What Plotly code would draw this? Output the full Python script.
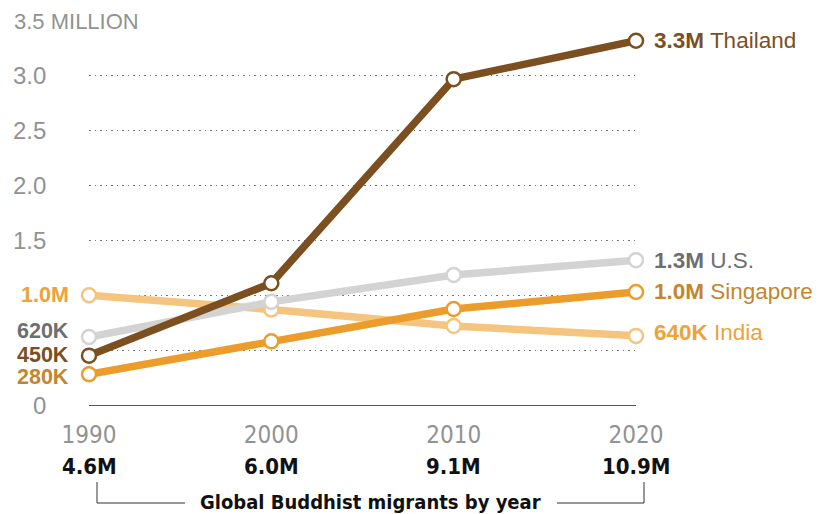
import plotly.graph_objects as go

# ---------------------------------------------------------
# data
# ---------------------------------------------------------
years = [1990, 2000, 2010, 2020]
thailand = [0.45, 1.11, 2.97, 3.32]
us = [0.62, 0.94, 1.185, 1.32]
singapore = [0.28, 0.58, 0.875, 1.03]
india = [1.00, 0.87, 0.72, 0.63]

global_totals = ["4.6M", "6.0M", "9.1M", "10.9M"]
y_ticks = [0, 0.5, 1.0, 1.5, 2.0, 2.5, 3.0, 3.5]
y_tick_text = ["0", "", "", "1.5", "2.0", "2.5", "3.0", "3.5 MILLION"]

# series: name, values, line colour, label colour, start label, end label
series = [
    ("India", india, "#f5c47f", "#eda23a", "1.0M", "640K"),
    ("U.S.", us, "#d3d3d3", "#6d6e71", "620K", "1.3M"),
    ("Singapore", singapore, "#ec9c2b", "#c4852f", "280K", "1.0M"),
    ("Thailand", thailand, "#7b4f1f", "#7b4f1f", "450K", "3.3M"),
]

# the page body has an 8px margin, so the figure sits at (8, 8)
OFF = 8
W, H = 828 - OFF, 514 - OFF
L, R, T, B = 89 - OFF, 828 - 636, 21 - OFF, 514 - 405
PW, PH = W - L - R, H - T - B


def px_x(p):
    return (p - OFF - L) / PW


def px_y(p):
    return (H - B - (p - OFF)) / PH


TICK_FONT = "Liberation Sans"
NARROW = "Liberation Sans Narrow, DejaVu Sans Condensed, Arial Narrow, Liberation Sans"
GRAY = "#929292"

fig = go.Figure()
for name, vals, col, lab_col, start_lab, end_lab in series:
    fig.add_trace(go.Scatter(
        x=years, y=vals, mode="lines+markers", name=name,
        line=dict(color=col, width=7.5),
        marker=dict(size=14, color="white", line=dict(color=col, width=2.5)),
        cliponaxis=False, hoverinfo="skip",
    ))

# end labels (right)
end_shift = {"Thailand": 0, "U.S.": 0, "Singapore": 0, "India": 3}
for name, vals, col, lab_col, start_lab, end_lab in series:
    fig.add_annotation(
        x=years[-1], y=vals[-1], xref="x", yref="y",
        text=f"<b>{end_lab}</b> {name}", showarrow=False,
        xanchor="left", yanchor="middle", xshift=16, yshift=end_shift[name],
        font=dict(family=TICK_FONT, size=22.5, color=lab_col),
    )

# start labels (left) - tight stack, small box padding
start_shift = {"Thailand": 1, "U.S.": 6, "Singapore": -3, "India": 0}
for name, vals, col, lab_col, start_lab, end_lab in series:
    fig.add_annotation(
        x=years[0], y=vals[0], xref="x", yref="y",
        text=f"<b>{start_lab}</b>", showarrow=False,
        xanchor="right", yanchor="middle", xshift=-19, yshift=start_shift[name],
        borderpad=0,
        font=dict(family=TICK_FONT, size=21.5, color=lab_col),
    )

# y tick labels
for v, t in zip(y_ticks, y_tick_text):
    if not t:
        continue
    if "MILLION" in t:
        fig.add_annotation(
            x=px_x(9), y=v, xref="paper", yref="y", text=t, showarrow=False,
            xanchor="left", yanchor="middle", bgcolor="white", borderpad=4,
            font=dict(family=TICK_FONT, size=22, color=GRAY),
        )
    else:
        fig.add_annotation(
            x=px_x(48), y=v, xref="paper", yref="y", text=t, showarrow=False,
            xanchor="right", yanchor="middle",
            font=dict(family=TICK_FONT, size=24, color=GRAY),
        )

# global totals under the years
for yr, tot in zip(years, global_totals):
    fig.add_annotation(
        x=yr, y=px_y(466), xref="x", yref="paper", text=f"<b>{tot}</b>",
        showarrow=False, xanchor="center", yanchor="middle",
        font=dict(family=NARROW, size=22, color="#111111"),
    )

# bracket
bk = dict(color="#333333", width=1)
fig.add_shape(type="line", xref="paper", yref="paper",
              x0=px_x(97), x1=px_x(97), y0=px_y(482), y1=px_y(503), line=bk)
fig.add_shape(type="line", xref="paper", yref="paper",
              x0=px_x(97), x1=px_x(185), y0=px_y(503), y1=px_y(503), line=bk)
fig.add_shape(type="line", xref="paper", yref="paper",
              x0=px_x(557), x1=px_x(644), y0=px_y(503), y1=px_y(503), line=bk)
fig.add_shape(type="line", xref="paper", yref="paper",
              x0=px_x(644), x1=px_x(644), y0=px_y(482), y1=px_y(503), line=bk)
fig.add_annotation(
    x=px_x(370), y=px_y(502), xref="paper", yref="paper",
    text="<b>Global Buddhist migrants by year</b>", showarrow=False,
    xanchor="center", yanchor="middle",
    font=dict(family=NARROW, size=20, color="#111111"),
)

fig.update_layout(
    width=W, height=H,
    margin=dict(l=L, r=R, t=T, b=B),
    plot_bgcolor="white", paper_bgcolor="white",
    showlegend=False,
    xaxis=dict(
        range=[1990, 2020], tickvals=years, ticktext=[str(y) for y in years],
        showgrid=False, zeroline=False,
        showline=True, linecolor="#555555", linewidth=1,
        ticks="", ticklabelstandoff=8,
        tickfont=dict(family=NARROW, size=24, color=GRAY),
    ),
    yaxis=dict(
        range=[0, 3.5], tickvals=y_ticks[1:], showticklabels=False,
        showgrid=True, gridcolor="#777777", gridwidth=1.2, griddash="1.5px,4px",
        zeroline=False,
    ),
)

fig.write_html("out.html")
